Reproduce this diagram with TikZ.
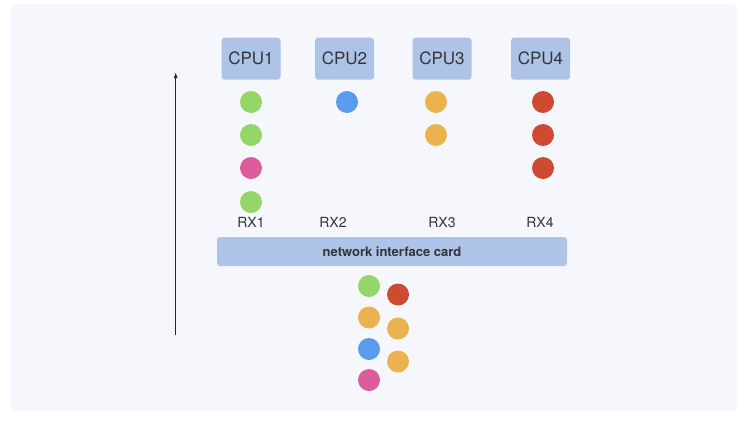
\documentclass[tikz,border=0pt]{standalone}
\usepackage{fontspec}
\setmainfont{TeX Gyre Heros}
\usepackage{tikz}
\usetikzlibrary{arrows.meta}
\usetikzlibrary{calc}

\definecolor{panelbg}{HTML}{F5F7FC}
\definecolor{boxblue}{HTML}{AEC3E8}
\definecolor{textgray}{HTML}{353535}
\definecolor{dotgreen}{HTML}{94D66A}
\definecolor{dotblue}{HTML}{5A9BF0}
\definecolor{dotorange}{HTML}{EBB24F}
\definecolor{dotred}{HTML}{CE4A30}
\definecolor{dotpink}{HTML}{DE5C9C}

\begin{document}
\begin{tikzpicture}
[x=1pt,y=-1pt,
  cpudecorate/.style={shape=rectangle,rounded corners=3pt,fill=boxblue,
    minimum width=59pt,minimum height=42pt,inner sep=0pt,
    text=textgray,font=\fontsize{17}{17}\selectfont},
  dotdecorate/.style={shape=circle,minimum size=22pt,inner sep=0pt,fill=#1},
  rxdecorate/.style={text=textgray,inner sep=0pt,font=\fontsize{14}{14}\selectfont},
  nicdecorate/.style={shape=rectangle,rounded corners=3pt,fill=boxblue,
    minimum width=350pt,minimum height=29pt,inner sep=0pt,
    text=textgray,font=\fontsize{13}{13}\selectfont\bfseries},
  linedecorate/.style={-{Latex[length=6pt,width=4pt]},line width=1.1pt,black!85}]
\useasboundingbox (0,0) rectangle (750,424);
%% background panel
\fill[panelbg,rounded corners=6pt] (10,4) rectangle (737,411);
%% cpus
\foreach \nodename/\x in {1/251, 2/344.5, 3/442, 4/540.5}
{
  \node (cpu\nodename) at (\x,58.7) [cpudecorate] {CPU\nodename};
}
%% rx queues
\foreach \nodename/\x in {1/251, 2/333, 3/442, 4/540}
{
  \node (rx\nodename) at (\x,222.5) [rxdecorate] {RX\nodename};
}
%% network interface card
\node (nic) at (392,251.5) [nicdecorate] {network interface card};
%% packets in the queues
\foreach \nodename/\x/\y/\colour in {q1a/251/102/dotgreen, q1b/251/135/dotgreen,
  q1c/251/168/dotpink, q1d/251/202/dotgreen, q2a/347/102/dotblue,
  q3a/436/102/dotorange, q3b/436/135/dotorange,
  q4a/543/102/dotred, q4b/543/135/dotred, q4c/543/168/dotred}
{
  \node (\nodename) at (\x,\y) [dotdecorate=\colour] {};
}
%% incoming packets
\foreach \nodename/\x/\y/\colour in {in1/369/286/dotgreen, in2/369/317.5/dotorange,
  in3/369/349/dotblue, in4/369/380/dotpink, in5/398/294.5/dotred,
  in6/398/328.5/dotorange, in7/398/361.5/dotorange}
{
  \node (\nodename) at (\x,\y) [dotdecorate=\colour] {};
}
%% direction of flow
\coordinate (flowbottom) at (175.7,335);
\coordinate (flowtop) at (175.7,72);
\draw[linedecorate] (flowbottom) -- (flowtop);
\end{tikzpicture}
\end{document}
